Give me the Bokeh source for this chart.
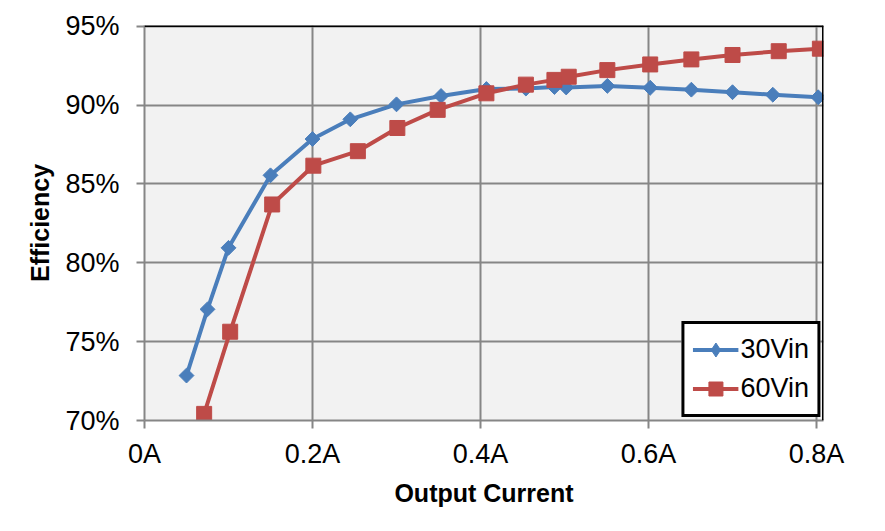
import math
from bokeh.plotting import figure
from bokeh.models import FixedTicker, Span, Legend, LegendItem, ColumnDataSource
from bokeh.embed import file_html
from bokeh.resources import INLINE

# Data
x_30 = [0.05, 0.075, 0.10, 0.15, 0.20, 0.245, 0.30, 0.353, 0.407, 0.454, 0.488, 0.502, 0.551, 0.602, 0.651, 0.70, 0.748, 0.802]
y_30 = [72.85, 77.05, 80.95, 85.55, 87.85, 89.1, 90.05, 90.58, 91.02, 91.05, 91.15, 91.12, 91.22, 91.1, 90.98, 90.82, 90.66, 90.5]
x_60 = [0.071, 0.102, 0.152, 0.201, 0.254, 0.301, 0.349, 0.407, 0.454, 0.488, 0.505, 0.551, 0.602, 0.651, 0.70, 0.755, 0.804]
y_60 = [70.42, 75.63, 83.7, 86.16, 87.08, 88.55, 89.7, 90.75, 91.3, 91.6, 91.8, 92.22, 92.58, 92.9, 93.18, 93.42, 93.58]

x_ticks = [0, 0.2, 0.4, 0.6, 0.8]
x_tick_labels = ["0A", "0.2A", "0.4A", "0.6A", "0.8A"]
y_ticks = [70, 75, 80, 85, 90, 95]
y_tick_labels = ["70%", "75%", "80%", "85%", "90%", "95%"]
series_names = ["30Vin", "60Vin"]

BLUE = "#4A7EBB"
RED = "#BE4B48"
GRID = "#868686"
FONT = "Liberation Sans"

p = figure(width=885, height=531, output_backend="svg", toolbar_location=None,
           x_range=(0, 0.8083), y_range=(70, 95.05))
p.min_border_left = 144
p.min_border_right = 62
p.min_border_top = 25
p.min_border_bottom = 111
p.background_fill_color = "#F2F2F2"
p.border_fill_color = "white"
p.outline_line_color = None

for ax in (p.xaxis[0], p.yaxis[0]):
    ax.axis_line_color = GRID
    ax.axis_line_width = 2
    ax.major_tick_line_color = GRID
    ax.major_tick_line_width = 2
    ax.major_tick_out = 8
    ax.major_tick_in = 0
    ax.minor_tick_line_color = None
    ax.major_label_text_font = FONT
    ax.major_label_text_font_size = "27px"
    ax.major_label_text_color = "black"
    ax.axis_label_text_font = FONT
    ax.axis_label_text_font_size = "25px"
    ax.axis_label_text_font_style = "bold"
    ax.axis_label_text_color = "black"

p.xaxis.ticker = FixedTicker(ticks=x_ticks)
p.xaxis.major_label_overrides = {t: l for t, l in zip(x_ticks, x_tick_labels)}
p.yaxis.ticker = FixedTicker(ticks=y_ticks)
p.yaxis.major_label_overrides = {t: l for t, l in zip(y_ticks, y_tick_labels)}
p.xaxis.axis_label = "Output Current"
p.yaxis.axis_label = "Efficiency"
p.xaxis.major_label_standoff = 10
p.yaxis.major_label_standoff = 17
p.xaxis.axis_label_standoff = 7
p.yaxis.axis_label_standoff = 8

p.xgrid.grid_line_color = GRID
p.xgrid.grid_line_width = 2
p.ygrid.grid_line_color = GRID
p.ygrid.grid_line_width = 2

s30 = ColumnDataSource(dict(x=x_30, y=y_30))
s60 = ColumnDataSource(dict(x=x_60, y=y_60))

l30 = p.line("x", "y", source=s30, line_color=BLUE, line_width=4)
m30 = p.scatter("x", "y", source=s30, marker="square", angle=math.pi / 4, size=10.5,
                fill_color=BLUE, line_color=BLUE)
l60 = p.line("x", "y", source=s60, line_color=RED, line_width=4)
m60 = p.scatter("x", "y", source=s60, marker="square", size=15,
                fill_color=RED, line_color=RED)
# hidden proxy so the legend key shows a diamond
k30 = p.scatter("x", "y", source=s30, marker="diamond", size=15,
                fill_color=BLUE, line_color=BLUE, visible=False)

# black frame on top and right
p.add_layout(Span(location=95.05, dimension="width", line_color="black", line_width=3))
p.add_layout(Span(location=0.8083, dimension="height", line_color="black", line_width=3))

legend = Legend(items=[LegendItem(label=series_names[0], renderers=[l30, k30]),
                       LegendItem(label=series_names[1], renderers=[l60, m60])],
                location="bottom_right")
legend.label_text_font = FONT
legend.label_text_font_size = "27px"
legend.label_text_color = "black"
legend.glyph_width = 46
legend.glyph_height = 35
legend.label_height = 35
legend.label_standoff = 2
legend.spacing = 4
legend.padding = 8
legend.margin = 3
legend.border_line_color = "black"
legend.border_line_alpha = 1
legend.border_line_width = 3
legend.background_fill_color = "white"
legend.background_fill_alpha = 1
p.add_layout(legend, "center")

open("out.html", "w").write(file_html(p, INLINE))
